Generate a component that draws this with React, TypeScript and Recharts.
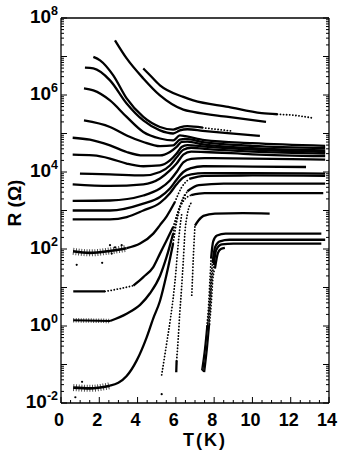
import { ComposedChart, Line, Scatter, XAxis, YAxis } from 'recharts'

// every point is [T in K, log10 of R in ohm]
type Pt = [number, number]

const c01: Pt[] = [[4.3, 6.69], [4.56, 6.56], [5.17, 6.25], [6.39, 5.95], [6.91, 5.86], [8.74, 5.69], [10.48, 5.53], [11.3, 5.5], [12.22, 5.47], [13.18, 5.4]]
const c02: Pt[] = [[2.82, 7.42], [3.43, 6.95], [4.3, 6.43], [5.17, 5.99], [6.39, 5.62], [6.91, 5.56], [8.74, 5.43], [10.71, 5.3]]
const c03: Pt[] = [[1.69, 6.99], [2.04, 6.9], [2.73, 6.51], [3.43, 5.91], [4.3, 5.43], [5.17, 5.17], [5.86, 5.1], [6.21, 5.16], [6.6, 5.19], [7.4, 5.15], [8.98, 5.06]]
const c04: Pt[] = [[1.25, 6.71], [1.69, 6.69], [2.56, 6.38], [3.43, 5.78], [4.3, 5.34], [5.17, 5.08], [5.86, 5.0], [6.21, 5.08], [6.6, 5.11], [7.4, 5.07], [8.7, 5.01], [10.39, 4.94]]
const c05: Pt[] = [[1.2, 6.17], [1.69, 6.12], [2.56, 5.86], [3.43, 5.43], [4.3, 5.04], [5.17, 4.87], [5.86, 4.82], [6.21, 4.95], [6.5, 4.93], [7.5, 4.83], [10, 4.75], [13.8, 4.68]]
const c06: Pt[] = [[1.2, 5.34], [2.56, 5.17], [3.43, 4.95], [4.3, 4.78], [5.17, 4.67], [5.86, 4.69], [6.21, 4.84], [6.5, 4.86], [7.5, 4.77], [10, 4.68], [13.8, 4.62]]
const c07: Pt[] = [[0.61, 4.89], [1.51, 4.84], [2.56, 4.69], [3.43, 4.52], [4.3, 4.43], [5.17, 4.43], [5.69, 4.52], [6.04, 4.65], [6.3, 4.78], [6.6, 4.79], [7.5, 4.71], [10, 4.62], [13.8, 4.56]]
const c08: Pt[] = [[0.61, 4.45], [1.69, 4.43], [2.56, 4.35], [3.43, 4.22], [4.3, 4.15], [5.17, 4.17], [5.69, 4.3], [6.04, 4.48], [6.3, 4.65], [6.6, 4.7], [7.5, 4.66], [10, 4.58], [13.8, 4.52]]
const c09: Pt[] = [[0.99, 3.96], [2.56, 3.94], [4.3, 3.91], [5.17, 4.0], [5.69, 4.17], [6.04, 4.38], [6.39, 4.58], [6.8, 4.63], [7.5, 4.6], [10, 4.53], [13.8, 4.48]]
const c10: Pt[] = [[0.61, 3.68], [2.56, 3.64], [4.3, 3.68], [5.17, 3.83], [5.69, 4.04], [6.04, 4.22], [6.39, 4.45], [6.8, 4.53], [7.5, 4.52], [10, 4.46], [13.8, 4.41]]
const c11: Pt[] = [[0.61, 3.25], [2.56, 3.26], [4.3, 3.39], [5.17, 3.57], [5.69, 3.78], [6.04, 4.0], [6.39, 4.25], [6.8, 4.34], [7.5, 4.36], [10, 4.35], [13.8, 4.32]]
const c12: Pt[] = [[0.61, 3.0], [2.56, 3.0], [4.3, 3.18], [5.17, 3.35], [5.69, 3.57], [6.04, 3.8], [6.39, 4.0], [6.8, 4.1], [7.43, 4.15], [10, 4.14], [12.8, 4.13]]
const c13: Pt[] = [[0.61, 2.77], [2.56, 2.77], [3.43, 2.83], [4.3, 3.0], [5.17, 3.2], [5.69, 3.45], [6.04, 3.68], [6.39, 3.86], [6.8, 3.94], [7.5, 3.97], [10, 3.97], [13.8, 3.96]]
const c14: Pt[] = [[0.63, 1.94], [1.51, 1.9], [2.56, 1.95], [3.43, 2.02], [4.13, 2.14], [4.82, 2.4], [5.17, 2.62], [5.52, 2.85], [5.95, 3.22], [6.3, 3.6], [6.7, 3.82], [7.5, 3.9], [10, 3.91], [13.8, 3.9]]
const c15: Pt[] = [[0.64, 0.9], [2.3, 0.9], [3.08, 0.97], [3.78, 1.05], [4.3, 1.27], [4.82, 1.53], [5.17, 1.88], [5.52, 2.23], [5.86, 2.57], [6.2, 3.1], [6.6, 3.5], [7.2, 3.66], [8.5, 3.7], [13.8, 3.7]]
const c16: Pt[] = [[0.64, 0.15], [2.56, 0.13], [3.43, 0.32], [4.13, 0.55], [4.65, 0.85], [5.17, 1.3], [5.52, 1.8], [5.86, 2.4], [6.1, 2.9], [6.4, 3.25], [6.8, 3.4], [7.5, 3.45], [13.7, 3.45]]
const c17: Pt[] = [[0.64, -1.6], [1.51, -1.62], [2.56, -1.55], [3.43, -1.3], [3.95, -0.9], [4.47, -0.3], [4.82, 0.2], [5.17, 0.65], [5.52, 1.35], [5.86, 2.15], [6.04, 2.7], [6.25, 3.15], [6.45, 3.4]]
const spikeA: Pt[] = [[5.26, -1.27], [5.52, -0.45], [5.72, 0.2], [5.9, 0.9], [6.0, 1.4], [6.1, 2.0], [6.2, 2.5], [6.32, 2.95]]
const spikeB: Pt[] = [[6.02, -1.2], [6.04, -0.9], [6.12, -0.35], [6.2, 0.3], [6.3, 1.0], [6.39, 1.7], [6.47, 2.4], [6.6, 2.9], [6.8, 3.2]]
const curveC: Pt[] = [[6.83, 0.8], [6.86, 1.14], [6.91, 1.75], [6.97, 2.36], [7.0, 2.61], [7.18, 2.74], [7.44, 2.86], [8.04, 2.92], [9.5, 2.93], [10.9, 2.92]]
const q1: Pt[] = [[7.35, -1.15], [7.5, -0.6], [7.62, 0.0], [7.72, 0.6], [7.78, 1.2], [7.84, 1.75], [7.95, 2.2], [8.15, 2.35], [8.6, 2.4], [13.6, 2.4]]
const q2: Pt[] = [[7.4, -1.18], [7.55, -0.55], [7.67, 0.05], [7.76, 0.6], [7.83, 1.2], [7.92, 1.66], [8.05, 2.05], [8.3, 2.2], [8.8, 2.24], [13.8, 2.24]]
const q3: Pt[] = [[7.45, -1.2], [7.6, -0.6], [7.72, 0.0], [7.8, 0.6], [7.88, 1.2], [7.98, 1.58], [8.1, 1.97], [8.4, 2.12], [9.0, 2.14], [13.6, 2.14]]
const q4: Pt[] = [[7.5, -1.2], [7.65, -0.55], [7.76, 0.05], [7.85, 0.6], [7.93, 1.2], [8.04, 1.49], [8.2, 1.9], [8.35, 2.0], [8.56, 2.03]]
const strayDots: Pt[] = [[0.82, 1.59], [2.15, 1.64], [2.56, 2.1], [2.82, 2.04], [3.17, 2.1], [2.65, 1.88], [5.26, -1.77], [0.75, -1.85], [1.1, -1.45]]

const xLabels = [0, 2, 4, 6, 8, 10, 12, 14]
const yLabelExps = [-2, 0, 2, 4, 6, 8]

const xTicks = Array.from({ length: 29 }, (_, i) => i / 2)
const yTicks = [-2, -1, 0, 1, 2, 3, 4, 5, 6, 7]
  .flatMap((e) => [1, 2, 3, 4, 5, 6, 7, 8, 9].map((m) => m * 10 ** e))
  .concat([1e8])

const FONT = '"Liberation Sans", Arial, Helvetica, sans-serif'

type Style = 'solid' | 'thin' | 'dotted' | 'noisy' | 'fuzzy'
// noisy stretches get a solid core plus a ragged halo
const STYLE: Record<Style, object[]> = {
  solid: [{ strokeWidth: 2.3 }],
  thin: [{ strokeWidth: 1.4 }],
  dotted: [{ strokeWidth: 1.8, strokeDasharray: '0.1 3', strokeLinecap: 'round' }],
  noisy: [{ strokeWidth: 2.6 }, { strokeWidth: 7, strokeDasharray: '0.9 1.8', strokeOpacity: 0.75 }],
  fuzzy: [{ strokeWidth: 2.2 }, { strokeWidth: 4.5, strokeDasharray: '0.9 1.6', strokeOpacity: 0.75 }],
}

const curves: { data: Pt[]; segs?: [number, number, Style][] }[] = [
  { data: c01, segs: [[4.3, 11.3, 'solid'], [11.3, 13.18, 'dotted']] },
  { data: c02 },
  { data: c03, segs: [[1.69, 7.4, 'solid'], [7.4, 8.98, 'dotted']] },
  { data: c04 },
  { data: c05 },
  { data: c06 },
  { data: c07 },
  { data: c08 },
  { data: c09 },
  { data: c10 },
  { data: c11 },
  { data: c12 },
  { data: c13 },
  { data: c14, segs: [[0.63, 3.43, 'noisy'], [3.43, 5.95, 'solid'], [5.95, 6.7, 'dotted'], [6.7, 13.8, 'solid']] },
  { data: c15, segs: [[0.64, 2.3, 'solid'], [2.3, 3.78, 'dotted'], [3.78, 5.86, 'solid'], [5.86, 6.6, 'dotted'], [6.6, 13.8, 'solid']] },
  { data: c16, segs: [[0.64, 2.56, 'fuzzy'], [2.56, 5.86, 'solid'], [5.86, 6.8, 'dotted'], [6.8, 13.7, 'solid']] },
  { data: c17, segs: [[0.64, 2.56, 'noisy'], [2.56, 5.86, 'solid'], [5.86, 6.45, 'dotted']] },
  { data: spikeA, segs: [[5.26, 6.32, 'dotted']] },
  { data: spikeB, segs: [[6.02, 6.04, 'solid'], [6.04, 6.8, 'dotted']] },
  { data: curveC, segs: [[6.83, 7.0, 'dotted'], [7.0, 10.9, 'solid']] },
  { data: q1, segs: [[7.35, 7.62, 'thin'], [7.62, 7.84, 'dotted'], [7.84, 13.6, 'solid']] },
  { data: q2, segs: [[7.4, 7.67, 'thin'], [7.67, 7.92, 'dotted'], [7.92, 13.8, 'solid']] },
  { data: q3, segs: [[7.45, 7.72, 'thin'], [7.72, 7.98, 'dotted'], [7.98, 13.6, 'solid']] },
  { data: q4, segs: [[7.5, 7.76, 'thin'], [7.76, 8.04, 'dotted'], [8.04, 8.56, 'solid']] },
]

const rows = (pts: Pt[], a = -Infinity, b = Infinity) =>
  pts.filter(([t]) => t >= a - 1e-9 && t <= b + 1e-9).map(([t, lg]) => ({ t, r: 10 ** lg }))

const isMajorY = (v: number) => {
  const e = Math.round(Math.log10(v))
  return Math.abs(v / 10 ** e - 1) < 1e-6
}

function LeftTick({ x, y, payload }: any) {
  const v = payload.value as number
  const e = Math.round(Math.log10(v))
  const major = isMajorY(v)
  return (
    <g>
      <line x1={x} x2={x + (major ? 6 : 3)} y1={y} y2={y} stroke="#000" />
      {major && yLabelExps.includes(e) && (
        <text x={x - 3} y={y + 4.5} textAnchor="end" fontFamily={FONT} fontWeight="bold" fontSize={19} fill="#000">
          10<tspan dy={-8} fontSize={12.5}>{e}</tspan>
        </text>
      )}
    </g>
  )
}

function RightTick({ x, y, payload }: any) {
  const len = isMajorY(payload.value) ? 6 : 3
  return <line x1={x} x2={x - len} y1={y} y2={y} stroke="#000" />
}

function BottomTick({ x, y, payload }: any) {
  const v = payload.value as number
  const major = xLabels.includes(v)
  return (
    <g>
      <line x1={x} x2={x} y1={y} y2={y - (major ? 6 : 3)} stroke="#000" />
      {major && (
        <text x={x - 2} y={y + 23} textAnchor="middle" fontFamily={FONT} fontWeight="bold" fontSize={18} fill="#000">
          {v}
        </text>
      )}
    </g>
  )
}

function TopTick({ x, y, payload }: any) {
  const len = xLabels.includes(payload.value) ? 6 : 3
  return <line x1={x} x2={x} y1={y} y2={y + len} stroke="#000" />
}

const frame = { stroke: '#000', strokeWidth: 1.3 }

export default function App() {
  return (
    <div style={{ position: 'absolute', left: 0, top: 0, background: '#fff' }}>
      <ComposedChart width={344} height={456} margin={{ top: 17, right: 14, bottom: 0, left: 0 }}>
        <XAxis
          xAxisId="b"
          dataKey="t"
          type="number"
          domain={[0, 14]}
          ticks={xTicks}
          interval={0}
          tickSize={0}
          tickMargin={0}
          tick={<BottomTick />}
          axisLine={frame}
          height={53}
          allowDataOverflow
          label={{
            position: 'insideBottom',
            content: () => (
              <text x={205} y={446} textAnchor="middle" fontFamily={FONT} fontWeight="bold" fontSize={18} letterSpacing={2} fill="#000">
                T(K)
              </text>
            ),
          }}
        />
        <XAxis
          xAxisId="top"
          orientation="top"
          type="number"
          domain={[0, 14]}
          ticks={xTicks}
          interval={0}
          tickSize={0}
          tickMargin={0}
          tick={<TopTick />}
          axisLine={frame}
          height={1}
          allowDataOverflow
        />
        <YAxis
          yAxisId="l"
          type="number"
          scale="log"
          domain={[0.01, 1e8]}
          ticks={yTicks}
          interval={0}
          tickSize={0}
          tickMargin={0}
          tick={<LeftTick />}
          axisLine={frame}
          width={61}
          allowDataOverflow
          label={{
            position: 'insideLeft',
            content: () => (
              <text transform="translate(21,203) rotate(-90)" textAnchor="middle" fontFamily={FONT} fontWeight="bold" fontSize={19} fill="#000">
                R (Ω)
              </text>
            ),
          }}
        />
        <YAxis
          yAxisId="r"
          orientation="right"
          type="number"
          scale="log"
          domain={[0.01, 1e8]}
          ticks={yTicks}
          interval={0}
          tickSize={0}
          tickMargin={0}
          tick={<RightTick />}
          axisLine={frame}
          width={1}
          allowDataOverflow
        />
        {curves.flatMap((c, ci) =>
          (c.segs ?? [[-Infinity, Infinity, 'solid'] as [number, number, Style]]).flatMap(([a, b, s], si) =>
            STYLE[s].map((st, k) => (
              <Line
                key={`c${ci}-${si}-${k}`}
                xAxisId="b"
                yAxisId="l"
                data={rows(c.data, a, b)}
                dataKey="r"
                type="monotone"
                stroke="#000"
                {...st}
                dot={false}
                activeDot={false}
                isAnimationActive={false}
              />
            )),
          ),
        )}
        <Scatter
          xAxisId="b"
          yAxisId="l"
          data={rows(strayDots)}
          dataKey="r"
          fill="#000"
          shape={(p: any) => <circle cx={p.cx} cy={p.cy} r={1.1} fill="#000" />}
          isAnimationActive={false}
        />
      </ComposedChart>
    </div>
  )
}
